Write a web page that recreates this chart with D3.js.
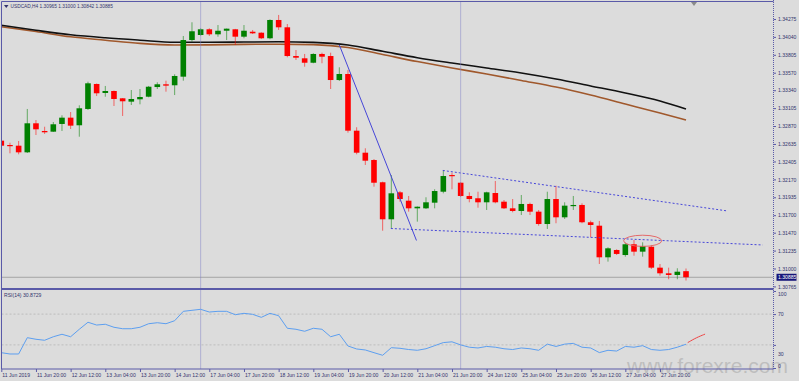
<!DOCTYPE html>
<html>
<head>
<meta charset="utf-8">
<script src="https://cdnjs.cloudflare.com/ajax/libs/d3/7.8.5/d3.min.js"></script>
<style>
  body { margin: 0; background: #dcdcdc; }
  svg { display: block; font-family: "Liberation Sans", Arial, sans-serif; }
</style>
</head>
<body>
<svg width="799" height="381"></svg>
<script>
// USDCAD H4 bars, 11 Jun 2019 04:00 .. 28 Jun 2019 08:00 (one value per bar)
const opens = [1.32678, 1.32621, 1.32612, 1.32525, 1.32906, 1.32805, 1.32796, 1.32897, 1.32980, 1.32880,
               1.33094, 1.33422, 1.33304, 1.33330, 1.33234, 1.33190, 1.33221, 1.33255, 1.33382, 1.33418,
               1.33405, 1.33518, 1.33999, 1.34065, 1.34140, 1.34074, 1.34121, 1.34140, 1.34043, 1.34108,
               1.34095, 1.34022, 1.34262, 1.34166, 1.33789, 1.33759, 1.33701, 1.33816, 1.33789, 1.33474,
               1.33553, 1.32809, 1.32520, 1.32424, 1.32132, 1.31646, 1.32000, 1.31890, 1.31790, 1.31790,
               1.31864, 1.32008, 1.32227, 1.32126, 1.31952, 1.31922, 1.31869, 1.31991, 1.31877, 1.31790,
               1.31755, 1.31847, 1.31746, 1.31584, 1.31912, 1.31672, 1.31825, 1.31834, 1.31607, 1.31562,
               1.31147, 1.31243, 1.31177, 1.31318, 1.31221, 1.31286, 1.31011, 1.30937, 1.30915, 1.30965];
const highs = [1.32700, 1.32651, 1.32674, 1.33094, 1.32949, 1.32861, 1.32923, 1.33011, 1.33054, 1.33142,
               1.33452, 1.33428, 1.33396, 1.33336, 1.33238, 1.33343, 1.33356, 1.33396, 1.33444, 1.33465,
               1.33549, 1.34052, 1.34232, 1.34153, 1.34153, 1.34196, 1.34150, 1.34145, 1.34196, 1.34131,
               1.34100, 1.34271, 1.34328, 1.34209, 1.33868, 1.33816, 1.33825, 1.33833, 1.33833, 1.33641,
               1.33606, 1.32854, 1.32578, 1.32437, 1.32140, 1.32227, 1.32017, 1.31952, 1.31815, 1.31935,
               1.32040, 1.32293, 1.32258, 1.32132, 1.32000, 1.32008, 1.32008, 1.32149, 1.31899, 1.31912,
               1.31965, 1.31864, 1.31768, 1.32008, 1.32087, 1.31869, 1.31952, 1.31856, 1.31628, 1.31624,
               1.31279, 1.31252, 1.31339, 1.31374, 1.31344, 1.31309, 1.31059, 1.31011, 1.31003, 1.31000];
const lows = [1.32595, 1.32512, 1.32499, 1.32516, 1.32752, 1.32766, 1.32792, 1.32805, 1.32831, 1.32730,
              1.33081, 1.33264, 1.33255, 1.33133, 1.33002, 1.33146, 1.33155, 1.33247, 1.33356, 1.33321,
              1.33277, 1.33465, 1.33977, 1.34056, 1.34052, 1.34043, 1.33999, 1.33934, 1.34022, 1.34078,
              1.34012, 1.34009, 1.34131, 1.33772, 1.33737, 1.33649, 1.33694, 1.33694, 1.33356, 1.33461,
              1.32783, 1.32499, 1.32359, 1.32074, 1.31496, 1.31528, 1.31877, 1.31746, 1.31615, 1.31781,
              1.31790, 1.31987, 1.32040, 1.31939, 1.31869, 1.31798, 1.31768, 1.31856, 1.31781, 1.31738,
              1.31702, 1.31702, 1.31562, 1.31519, 1.31594, 1.31650, 1.31768, 1.31594, 1.31410, 1.31059,
              1.31090, 1.31177, 1.31155, 1.31168, 1.31155, 1.30994, 1.30906, 1.30859, 1.30859, 1.30842];
const closes = [1.32612, 1.32608, 1.32525, 1.32906, 1.32827, 1.32788, 1.32893, 1.32980, 1.32875, 1.33103,
                1.33431, 1.33300, 1.33330, 1.33225, 1.33195, 1.33225, 1.33251, 1.33386, 1.33418, 1.33400,
                1.33527, 1.33999, 1.34114, 1.34140, 1.34074, 1.34121, 1.34148, 1.34043, 1.34121, 1.34087,
                1.34022, 1.34262, 1.34166, 1.33789, 1.33767, 1.33701, 1.33816, 1.33780, 1.33474, 1.33553,
                1.32809, 1.32520, 1.32415, 1.32126, 1.31646, 1.31987, 1.31912, 1.31790, 1.31811, 1.31869,
                1.32017, 1.32214, 1.32214, 1.31952, 1.31912, 1.31869, 1.32000, 1.31869, 1.31790, 1.31755,
                1.31847, 1.31746, 1.31584, 1.31912, 1.31672, 1.31825, 1.31834, 1.31607, 1.31571, 1.31147,
                1.31265, 1.31191, 1.31318, 1.31221, 1.31296, 1.31011, 1.30937, 1.30915, 1.30958, 1.30885];

// RSI(14), one value per bar
const rsi = [19.9, 18.2, 18.2, 39.4, 37.3, 36.0, 40.6, 43.8, 40.6, 50.3,
             59.4, 55.8, 56.8, 52.9, 51.0, 51.0, 52.9, 57.5, 58.8, 57.5,
             61.4, 73.6, 74.9, 76.2, 72.7, 73.6, 73.6, 69.2, 71.0, 69.7,
             65.8, 71.0, 67.9, 51.6, 50.3, 47.7, 51.6, 50.3, 40.6, 43.8,
             28.6, 24.7, 23.4, 19.9, 16.5, 26.4, 25.6, 24.0, 23.0, 25.0,
             29.0, 33.0, 34.0, 30.0, 27.0, 26.0, 28.0, 27.0, 25.0, 24.0,
             26.0, 25.0, 23.0, 31.0, 28.0, 31.0, 32.0, 27.0, 26.0, 20.0,
             23.0, 22.0, 28.0, 27.0, 29.0, 24.0, 23.0, 24.0, 27.0, 30.8729];

// Moving averages, read every 4th bar
const maBars = [0, 4, 8, 12, 16, 20, 24, 28, 32, 36, 40, 44, 48, 52, 56, 60, 64, 68, 72, 76, 79];
const maSlow = [1.34192, 1.34127, 1.34068, 1.34028, 1.33997, 1.33970, 1.33970, 1.33973, 1.33976, 1.33968,
                1.33934, 1.33851, 1.33767, 1.33697, 1.33632, 1.33566, 1.33487, 1.33396, 1.33304, 1.33199, 1.33094];
const maFast = [1.34174, 1.34110, 1.34041, 1.33997, 1.33955, 1.33934, 1.33936, 1.33942, 1.33944, 1.33939,
                1.33901, 1.33809, 1.33716, 1.33632, 1.33553, 1.33468, 1.33382, 1.33277, 1.33159, 1.33041, 1.32949];

// Time axis
const timeTickBars = [0, 4, 8, 12, 16, 20, 24, 28, 32, 36, 40, 44, 48, 52, 56, 60, 64, 68, 72, 76];
const timeTickLabels = ["11 Jun 2019", "11 Jun 20:00", "12 Jun 12:00", "13 Jun 04:00", "13 Jun 20:00",
                        "14 Jun 12:00", "17 Jun 04:00", "17 Jun 20:00", "18 Jun 12:00", "19 Jun 04:00",
                        "19 Jun 20:00", "20 Jun 12:00", "21 Jun 04:00", "21 Jun 20:00", "24 Jun 12:00",
                        "25 Jun 04:00", "25 Jun 20:00", "26 Jun 12:00", "27 Jun 04:00", "27 Jun 20:00"];
const separatorBars = [23, 53];

// Price axis and RSI axis
const priceTicks = [1.34275, 1.34040, 1.33805, 1.33570, 1.33340, 1.33105, 1.32870, 1.32635,
                    1.32405, 1.32170, 1.31935, 1.31700, 1.31470, 1.31235, 1.31000, 1.30765];
const rsiTicks = [100, 70, 30, 0];
const rsiLevels = [70, 30];

// Drawn objects: [bar, value] end points
const trendLine = [[39.0, 1.33934], [47.9, 1.31368]];
const channelTop = [[50.95, 1.32287], [83.8, 1.31755]];
const channelBottom = [[44.95, 1.31525], [87.85, 1.31309]];
const ellipseBox = [[71.8, 1.31437], [76.2, 1.31290]];
const rsiMark = [[79.2, 33], [81.2, 44]];

// SVG setup
const svg = d3.select("svg");
const width = +svg.attr("width");
const height = +svg.attr("height");
const frame = { left: 1.5, right: 773.5, top: 1.5, mainBottom: 289, rsiTop: 291, rsiBottom: 369 };
const frameColor = "#5a5aa8";
const textColor = "#34346e";
const fontSize = 5.1;

svg.append("rect").attr("width", width).attr("height", height).attr("fill", "#dcdcdc");

// Scales
const xScale = d3.scaleLinear().domain([0, 79]).range([1.3, 686]);
const yScale = d3.scaleLinear().domain([1.30731, 1.34485]).range([frame.mainBottom, 3]);
const rsiScale = d3.scaleLinear().domain([0, 100]).range([368, 291]);

const bars = d3.range(opens.length).map(i => ({
  i, o: opens[i], h: highs[i], l: lows[i], c: closes[i]
}));

// Watermark (behind everything else)
svg.append("text").attr("x", 627).attr("y", 373)
   .attr("font-size", 21).attr("fill", "#b4b4b4").attr("fill-opacity", 0.75)
   .text("www.forexre.com");

// Clip for the main panel
svg.append("defs").append("clipPath").attr("id", "main-clip")
   .append("rect")
   .attr("x", frame.left).attr("y", frame.top)
   .attr("width", frame.right - frame.left).attr("height", frame.mainBottom - frame.top);

const main = svg.append("g").attr("clip-path", "url(#main-clip)");

// Weekly separators (both panels)
separatorBars.forEach(b => {
  svg.append("line")
     .attr("x1", xScale(b)).attr("x2", xScale(b))
     .attr("y1", frame.top).attr("y2", frame.rsiBottom)
     .attr("stroke", "#8080c8").attr("stroke-width", 1)
     .attr("stroke-dasharray", "1,1");
});

// Bid line
main.append("line")
    .attr("x1", frame.left).attr("x2", frame.right)
    .attr("y1", yScale(closes[closes.length - 1])).attr("y2", yScale(closes[closes.length - 1]))
    .attr("stroke", "#a4a4a4").attr("stroke-width", 1);

// Moving averages
const maLine = vals => d3.line()
  .x((d, k) => xScale(maBars[k]))
  .y(d => yScale(d))
  .curve(d3.curveMonotoneX)(vals);

main.append("path").attr("d", maLine(maFast))
    .attr("fill", "none").attr("stroke", "#a0582c").attr("stroke-width", 1.6);
main.append("path").attr("d", maLine(maSlow))
    .attr("fill", "none").attr("stroke", "#111").attr("stroke-width", 1.6);

// Candles
const candle = main.selectAll("g.candle").data(bars).enter()
  .append("g").attr("class", "candle");

candle.append("line")
  .attr("x1", d => xScale(d.i)).attr("x2", d => xScale(d.i))
  .attr("y1", d => yScale(d.h)).attr("y2", d => yScale(d.l))
  .attr("stroke", d => d.c >= d.o ? "#008000" : "#ff0000")
  .attr("stroke-opacity", 0.55)
  .attr("stroke-width", 1);

candle.append("rect")
  .attr("x", d => xScale(d.i) - 2.8)
  .attr("width", 5.6)
  .attr("y", d => yScale(Math.max(d.o, d.c)))
  .attr("height", d => Math.max(1.2, yScale(Math.min(d.o, d.c)) - yScale(Math.max(d.o, d.c))))
  .attr("fill", d => d.c >= d.o ? "#008000" : "#ff0000");

// Trend line and channel
const pt = p => [xScale(p[0]), yScale(p[1])];
main.append("line")
    .attr("x1", pt(trendLine[0])[0]).attr("y1", pt(trendLine[0])[1])
    .attr("x2", pt(trendLine[1])[0]).attr("y2", pt(trendLine[1])[1])
    .attr("stroke", "#4646d8").attr("stroke-width", 1);
[channelTop, channelBottom].forEach(seg => {
  main.append("line")
      .attr("x1", pt(seg[0])[0]).attr("y1", pt(seg[0])[1])
      .attr("x2", pt(seg[1])[0]).attr("y2", pt(seg[1])[1])
      .attr("stroke", "#4646d8").attr("stroke-width", 1)
      .attr("stroke-dasharray", "2,2");
});

// Ellipse
const ex0 = xScale(ellipseBox[0][0]), ex1 = xScale(ellipseBox[1][0]);
const ey0 = yScale(ellipseBox[0][1]), ey1 = yScale(ellipseBox[1][1]);
main.append("ellipse")
    .attr("cx", (ex0 + ex1) / 2).attr("cy", (ey0 + ey1) / 2)
    .attr("rx", (ex1 - ex0) / 2).attr("ry", (ey1 - ey0) / 2)
    .attr("fill", "none").attr("stroke", "#e46a6a").attr("stroke-width", 1);

// RSI panel
rsiLevels.forEach(v => {
  svg.append("line")
     .attr("x1", frame.left).attr("x2", frame.right)
     .attr("y1", rsiScale(v)).attr("y2", rsiScale(v))
     .attr("stroke", "#bdbdbd").attr("stroke-dasharray", "2,2");
});

svg.append("path")
   .datum(rsi)
   .attr("d", d3.line().x((d, i) => xScale(i)).y(d => rsiScale(d)))
   .attr("fill", "none").attr("stroke", "#5d9ff0").attr("stroke-width", 1);

// Hand-drawn red mark at the end of the RSI
svg.append("path")
   .attr("d", d3.line().x(d => xScale(d[0])).y(d => rsiScale(d[1])).curve(d3.curveBasis)(
     [rsiMark[0], [(rsiMark[0][0] + rsiMark[1][0]) / 2, (rsiMark[0][1] + rsiMark[1][1]) / 2 + 1], rsiMark[1]]))
   .attr("fill", "none").attr("stroke", "#ee4444").attr("stroke-width", 1);

svg.append("text").attr("x", 4).attr("y", 297)
   .attr("font-size", fontSize).attr("fill", textColor)
   .text(`RSI(14) ${rsi[rsi.length - 1].toFixed(4)}`);

// Frame lines
svg.append("line").attr("x1", frame.left).attr("x2", frame.left)
   .attr("y1", frame.top).attr("y2", frame.rsiBottom)
   .attr("stroke", frameColor).attr("stroke-width", 1);
svg.append("line").attr("x1", frame.left).attr("x2", frame.right)
   .attr("y1", frame.top).attr("y2", frame.top)
   .attr("stroke", frameColor).attr("stroke-width", 1);
svg.append("rect").attr("x", frame.left).attr("y", 288).attr("width", frame.right - frame.left).attr("height", 2)
   .attr("fill", frameColor);
svg.append("line").attr("x1", frame.left).attr("x2", frame.right)
   .attr("y1", frame.rsiBottom).attr("y2", frame.rsiBottom)
   .attr("stroke", frameColor).attr("stroke-width", 1);
svg.append("line").attr("x1", frame.right).attr("x2", frame.right)
   .attr("y1", 0).attr("y2", frame.rsiBottom)
   .attr("stroke", frameColor).attr("stroke-width", 1).attr("stroke-dasharray", "1,1");

// Price axis
const priceAxis = svg.append("g")
  .attr("transform", `translate(${frame.right},0)`)
  .call(d3.axisRight(yScale).tickValues(priceTicks).tickFormat(d3.format(".5f")).tickSize(2.5).tickPadding(2));
priceAxis.select(".domain").remove();
priceAxis.selectAll("line").attr("stroke", frameColor);
priceAxis.selectAll("text").attr("font-size", fontSize).attr("fill", textColor).attr("font-family", null);

// Current price box
const lastY = yScale(closes[closes.length - 1]);
svg.append("rect").attr("x", frame.right + 3).attr("y", lastY - 3.5).attr("width", 20).attr("height", 7)
   .attr("fill", "#16167a");
svg.append("text").attr("x", frame.right + 4.5).attr("y", lastY + 1.8)
   .attr("font-size", fontSize).attr("fill", "#fff").text(d3.format(".5f")(closes[closes.length - 1]));

// RSI axis
const rsiAxis = svg.append("g")
  .attr("transform", `translate(${frame.right},0)`)
  .call(d3.axisRight(rsiScale).tickValues(rsiTicks).tickSize(2.5).tickPadding(2));
rsiAxis.select(".domain").remove();
rsiAxis.selectAll("line").attr("stroke", frameColor);
rsiAxis.selectAll("text").attr("font-size", fontSize).attr("fill", textColor).attr("font-family", null);
rsiAxis.selectAll(".tick").filter(d => d === 0).select("text").attr("dy", "-0.1em");
rsiAxis.selectAll(".tick").filter(d => d === 100).select("text").attr("dy", "0.9em");
rsiAxis.selectAll(".tick").filter(d => d === 30).select("text").attr("dy", "2.1em");

// Time axis
const timeAxis = svg.append("g")
  .attr("transform", `translate(0,${frame.rsiBottom})`)
  .call(d3.axisBottom(xScale).tickValues(timeTickBars)
          .tickFormat((d, k) => timeTickLabels[k]).tickSize(3).tickPadding(1.5));
timeAxis.select(".domain").remove();
timeAxis.selectAll("line").attr("stroke", frameColor);
timeAxis.selectAll("text").attr("font-size", fontSize).attr("fill", textColor)
  .attr("font-family", null).attr("text-anchor", "start").attr("dx", 0.5);

// Header
const last = bars[bars.length - 1];
svg.append("path").attr("d", "M4,5 L8.5,5 L6.25,8 Z").attr("fill", textColor);
svg.append("text").attr("x", 10.5).attr("y", 8.2)
   .attr("font-size", 4.8).attr("fill", textColor)
   .text(`USDCAD,H4  ${[last.o, last.h, last.l, last.c].map(d3.format(".5f")).join(" ")}`);

// Chart shift marker
svg.append("path").attr("d", "M691,2 L697,2 L694,6 Z").attr("fill", "#8a8a8a");
</script>
</body>
</html>
